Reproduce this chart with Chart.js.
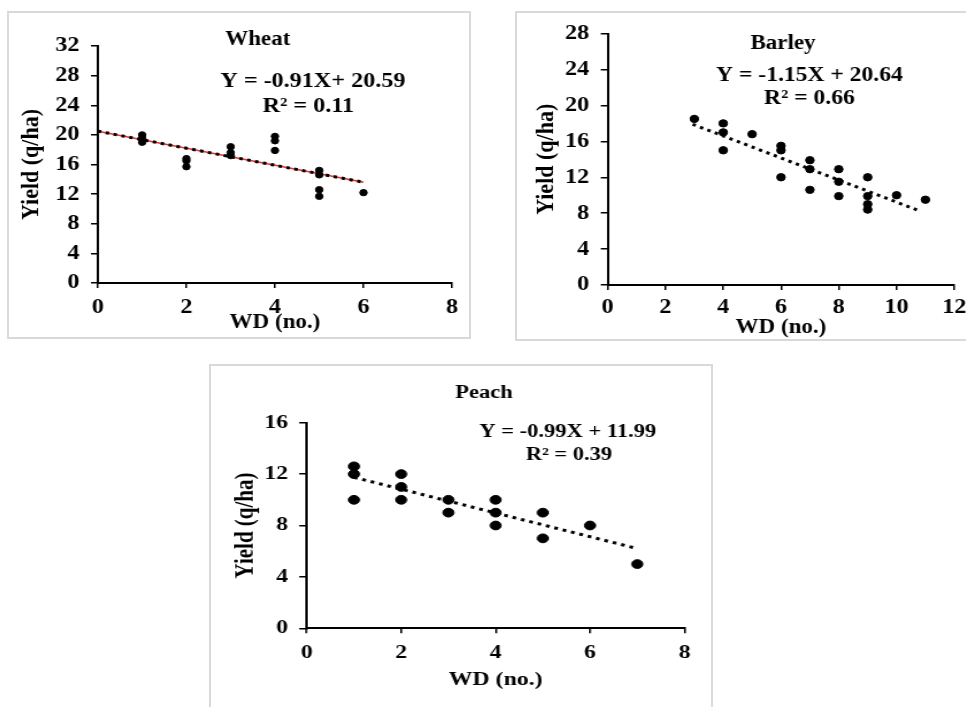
<!DOCTYPE html>
<html>
<head>
<meta charset="utf-8">
<script src="https://cdn.jsdelivr.net/npm/chart.js@4.4.1/dist/chart.umd.min.js"></script>
<style>
  body { margin: 0; width: 966px; height: 707px; overflow: hidden; background: #fff; position: relative; }
  .frame { position: absolute; border: 2px solid #d9d9d9; box-sizing: border-box; }
  .wrap { position: absolute; transform-origin: 0 0; }
  canvas { display: block; }
</style>
</head>
<body>
<div class="frame" style="left:7px;top:11px;width:464px;height:328px"></div>
<div class="frame" style="left:515px;top:11px;width:470px;height:330px"></div>
<div class="frame" style="left:209px;top:364px;width:504px;height:360px"></div>

<div class="wrap" style="left:7px;top:11px;transform:scaleX(1.15)"><canvas id="wheat" width="403" height="327"></canvas></div>
<div class="wrap" style="left:515px;top:11px;transform:scaleX(1.15)"><canvas id="barley" width="400" height="329"></canvas></div>
<div class="wrap" style="left:209px;top:364px;transform:scaleX(1.25)"><canvas id="peach" width="402" height="343"></canvas></div>

<script>
// Wheat
const wheatX = [1, 1, 1, 2, 2, 2, 3, 3, 3, 4, 4, 4, 5, 5, 5, 5, 6];
const wheatY = [20, 19.5, 19, 16.8, 16.5, 15.7, 18.4, 17.6, 17.2, 19.8, 19.2, 17.9, 15.2, 14.6, 12.6, 11.7, 12.2];
const wheatTrendX = [0, 6];
const wheatTrendY = [20.5, 13.6];
const wheatText = ['Wheat', 'Y = -0.91X+ 20.59', 'R\u00b2 = 0.11'];

// Barley
const barleyX = [3, 4, 4, 4, 5, 6, 6, 6, 7, 7, 7, 8, 8, 8, 9, 9, 9, 9, 10, 11];
const barleyY = [18.5, 18, 17, 15, 16.8, 15.5, 15, 12, 13.9, 12.9, 10.6, 12.9, 11.5, 9.9, 12, 9.9, 9, 8.4, 10, 9.5];
const barleyTrendX = [2.94, 10.8];
const barleyTrendY = [17.9, 8.25];
const barleyText = ['Barley', 'Y = -1.15X + 20.64', 'R\u00b2 = 0.66'];

// Peach
const peachX = [1, 1, 1, 2, 2, 2, 3, 3, 4, 4, 4, 5, 5, 6, 7];
const peachY = [12.6, 12, 10, 12, 11, 10, 10, 9, 10, 9, 8, 9, 7, 8, 5];
const peachTrendX = [1, 6.95];
const peachTrendY = [11.75, 6.25];
const peachText = ['Peach', 'Y = -0.99X + 11.99', 'R\u00b2 = 0.39'];

const xTitle = 'WD (no.)';
const yTitle = 'Yield (q/ha)';
const FONT = '"Liberation Serif", "Times New Roman", serif';

const pts = (xs, ys) => xs.map((x, i) => ({ x: x, y: ys[i] }));

// draws the title and the regression text inside each panel
const panelText = {
  id: 'panelText',
  afterDraw(chart, args, opts) {
    const ctx = chart.ctx;
    ctx.save();
    ctx.fillStyle = '#000';
    ctx.textAlign = 'center';
    ctx.textBaseline = 'middle';
    opts.lines.forEach(l => {
      ctx.font = `bold ${l.size}px ${FONT}`;
      ctx.fillText(l.text, l.x, l.y);
    });
    ctx.restore();
  }
};

function makeChart(id, p) {
  const datasets = [];
  if (p.redUnder) {
    datasets.push({
      type: 'line', data: pts(p.tx, p.ty), borderColor: '#e53030', borderWidth: 1.5,
      pointRadius: 0, fill: false, order: 3
    });
  }
  datasets.push({
    type: 'line', data: pts(p.tx, p.ty), borderColor: '#000', borderWidth: 3,
    borderDash: [3, 4], pointRadius: 0, fill: false, order: 2
  });
  datasets.push({
    type: 'scatter', data: pts(p.xs, p.ys), backgroundColor: '#000', borderColor: '#000',
    pointRadius: p.r, pointHoverRadius: p.r, order: 1
  });

  new Chart(document.getElementById(id), {
    data: { datasets: datasets },
    plugins: [panelText],
    options: {
      responsive: false,
      animation: false,
      events: [],
      layout: { padding: { top: p.top, right: p.right, left: 0, bottom: 0 } },
      plugins: {
        legend: { display: false },
        tooltip: { enabled: false },
        panelText: { lines: p.lines }
      },
      scales: {
        x: {
          type: 'linear', min: 0, max: p.xMax,
          afterFit: s => { s.height = p.xH; },
          border: { color: '#000', width: 2 },
          grid: { drawOnChartArea: false, drawTicks: true, tickLength: 5, color: '#000', lineWidth: 1.5 },
          ticks: { stepSize: 2, color: '#000', padding: p.xPad, maxRotation: 0,
                   font: { family: FONT, weight: 'bold', size: p.tick } },
          title: { display: true, text: xTitle, color: '#000', padding: { top: 0, bottom: p.xTitlePad },
                   font: { family: FONT, weight: 'bold', size: p.xTitleSize } }
        },
        y: {
          type: 'linear', min: 0, max: p.yMax,
          afterFit: s => { s.width = p.yW; },
          border: { color: '#000', width: 2 },
          grid: { drawOnChartArea: false, drawTicks: true, tickLength: 6, color: '#000', lineWidth: 1.5 },
          ticks: { stepSize: 4, color: '#000', padding: p.yPad,
                   font: { family: FONT, weight: 'bold', size: p.tick } },
          title: { display: true, text: yTitle, color: '#000', padding: { top: p.yTitlePad, bottom: 0 },
                   font: { family: FONT, weight: 'bold', size: p.yTitleSize } }
        }
      }
    }
  });
}

makeChart('wheat', {
  xs: wheatX, ys: wheatY, tx: wheatTrendX, ty: wheatTrendY, redUnder: true, r: 3.2,
  xMax: 8, yMax: 32, top: 35, right: 16, xH: 55, yW: 79,
  tick: 21, xPad: 7, yPad: 10, xTitleSize: 20, xTitlePad: 3, yTitleSize: 22, yTitlePad: 8,
  lines: [
    { text: wheatText[0], x: 218, y: 29, size: 20 },
    { text: wheatText[1], x: 266, y: 71, size: 21 },
    { text: wheatText[2], x: 262, y: 96, size: 21 }
  ]
});

makeChart('barley', {
  xs: barleyX, ys: barleyY, tx: barleyTrendX, ty: barleyTrendY, redUnder: false, r: 3.7,
  xMax: 12, yMax: 28, top: 15, right: 18, xH: 55, yW: 80.6,
  tick: 21, xPad: 5, yPad: 10, xTitleSize: 20, xTitlePad: 0, yTitleSize: 22, yTitlePad: 14,
  lines: [
    { text: barleyText[0], x: 233, y: 33, size: 20 },
    { text: barleyText[1], x: 256, y: 65, size: 20.5 },
    { text: barleyText[2], x: 256, y: 88, size: 20.5 }
  ]
});

makeChart('peach', {
  xs: peachX, ys: peachY, tx: peachTrendX, ty: peachTrendY, redUnder: false, r: 4.4,
  xMax: 8, yMax: 16, top: 58.7, right: 21.6, xH: 78.7, yW: 78.2,
  tick: 19, xPad: 8, yPad: 9, xTitleSize: 19, xTitlePad: 16, yTitleSize: 21, yTitlePad: 17,
  lines: [
    { text: peachText[0], x: 220, y: 29, size: 18 },
    { text: peachText[1], x: 287, y: 68, size: 18 },
    { text: peachText[2], x: 288, y: 91, size: 18 }
  ]
});
</script>
</body>
</html>
